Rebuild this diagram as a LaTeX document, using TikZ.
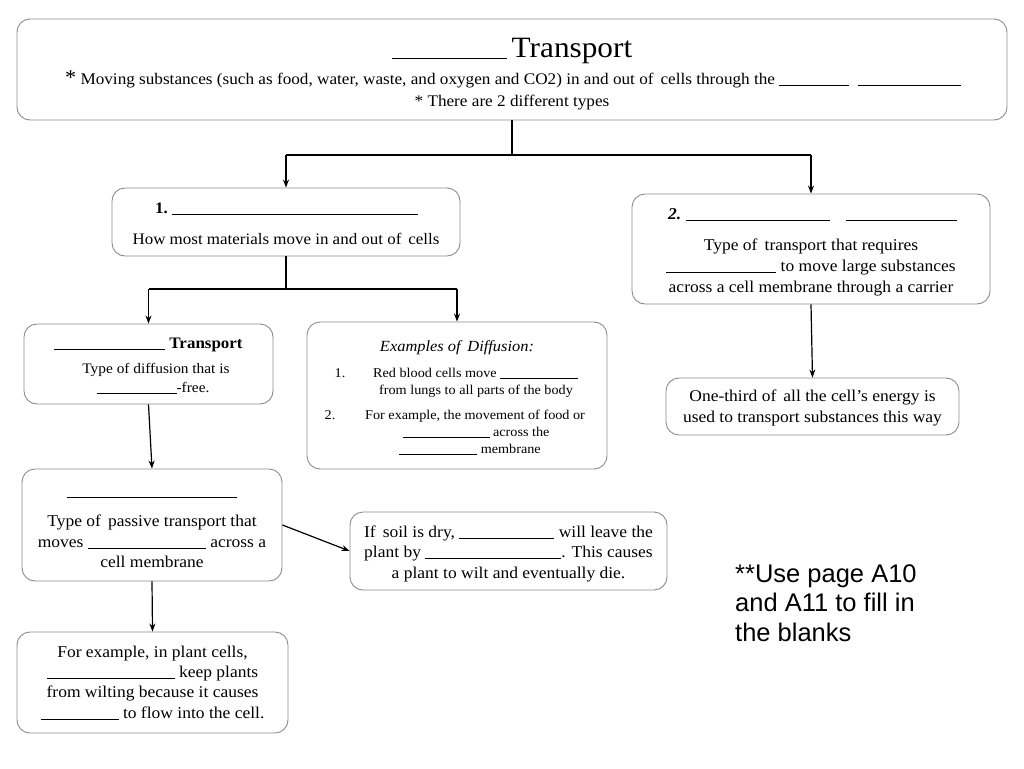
\documentclass[tikz,border=0pt]{standalone}
\usepackage{fontspec}
\setmainfont{Liberation Serif}[FakeStretch=1.06]
\newfontfamily\notefont{Liberation Sans}
\usetikzlibrary{arrows.meta}
\definecolor{boxgray}{RGB}{140,140,140}
\newcommand{\blank}[1]{\rule[-1.5pt]{#1pt}{0.7pt}}
\begin{document}
\begin{tikzpicture}[x=1pt,y=-1pt,
  box/.style={draw=boxgray, line width=0.9pt, rounded corners=13pt, inner sep=0pt},
  txt/.style={anchor=base, inner sep=0pt, font=\fontsize{16.5}{19}\selectfont},
  mtxt/.style={anchor=base, inner sep=0pt, font=\fontsize{16}{19}\selectfont},
  stxt/.style={anchor=base, inner sep=0pt, font=\fontsize{13.4}{15}\selectfont},
  conn/.style={line width=1.2pt, -{Stealth[length=8pt,width=6pt]}},
  seg/.style={line width=1.2pt},
  ]
\useasboundingbox (0,0) rectangle (1024,768);
\fill[white] (0,0) rectangle (1024,768);

% boxes
\node[box, minimum width=990pt, minimum height=101pt] (top) at (512,69.5) {};
\node[box, minimum width=348pt, minimum height=68pt] (b1) at (286,222) {};
\node[box, minimum width=358pt, minimum height=110pt] (b2) at (811,249) {};
\node[box, minimum width=249pt, minimum height=80pt] (tb) at (148.5,364) {};
\node[box, minimum width=300pt, minimum height=147pt] (ex) at (457,395.5) {};
\node[box, minimum width=260pt, minimum height=112pt] (pb) at (152,525) {};
\node[box, minimum width=317pt, minimum height=78pt] (sb) at (508.5,551) {};
\node[box, minimum width=271pt, minimum height=101pt] (plb) at (152.5,682.5) {};
\node[box, minimum width=293pt, minimum height=57pt] (ob) at (812.5,406.5) {};

% connectors
\coordinate (j1) at (512,155);
\coordinate (jl) at (286,155);
\coordinate (jr) at (811,155);
\draw[seg] (top.south) -- (j1);
\draw[seg] (jl) -- (jr);
\draw[conn] (jl) -- (b1.north);
\draw[conn] (jr) -- (b2.north);
\coordinate (k1) at (286,289);
\coordinate (kl) at (148.5,289);
\coordinate (kr) at (457,289);
\draw[seg] (b1.south) -- (k1);
\draw[seg] (kl) -- (kr);
\draw[conn] (kl) -- (tb.north);
\draw[conn] (kr) -- (ex.north);
\draw[conn] (tb.south) -- (pb.north);
\draw[conn] (b2.south) -- (ob.north);
\draw[conn] (pb.east) -- (sb.west);
\draw[conn] (pb.south) -- (plb.north);

% top texts
\node[anchor=base, inner sep=0pt, font=\fontsize{29.5}{31}\selectfont] (t1) at (512,57) {\blank{115}\,Transport};
\node[anchor=base, inner sep=0pt, font=\fontsize{16.2}{19}\selectfont] (t2) at (513,84) {{\fontsize{21}{20}\selectfont *} Moving substances (such as food, water, waste, and oxygen and CO2) in and out of\, cells through the \blank{70}\ \ \blank{103}};
\node[anchor=base, inner sep=0pt, font=\fontsize{16.2}{19}\selectfont] (t3) at (512,106) {* There are 2 different types};

% box 1
\node[mtxt, anchor=base west] (b1a) at (155,213) {\textbf{1.}\ \blank{246}};
\node[mtxt] (b1b) at (286,244) {How most materials move in and out of\, cells};

% box 2
\node[txt, anchor=base west] (b2a) at (668,219) {\textbf{\textit{2.}}\ \blank{144}\quad\blank{111}};
\node[txt] (b2b) at (811,250) {Type of\, transport that requires};
\node[txt] (b2c) at (811,271) {\blank{110} to move large substances};
\node[txt] (b2d) at (811,292) {across a cell membrane through a carrier};

% transport box
\node[mtxt, anchor=base west] (tba) at (54,348) {\blank{111}\ \textbf{Transport}};
\node[anchor=base, inner sep=0pt, font=\fontsize{14.5}{16}\selectfont] (tbb) at (156,373) {Type of diffusion that is};
\node[anchor=base, inner sep=0pt, font=\fontsize{14.5}{16}\selectfont] (tbc) at (153,392) {\blank{80}-free.};

% examples box
\node[anchor=base, inner sep=0pt, font=\fontsize{15.5}{17}\selectfont\itshape] (exa) at (457,351) {Examples of\, Diffusion:};
\node[stxt] (ex1) at (340,377) {1.};
\node[stxt, anchor=base west] (ex1a) at (373,377) {Red blood cells move \blank{78}};
\node[stxt] (ex1b) at (476,394) {from lungs to all parts of the body};
\node[stxt] (ex2) at (330,419) {2.};
\node[stxt, anchor=base west] (ex2a) at (365,419) {For example, the movement of food or};
\node[stxt] (ex2b) at (476,436) {\blank{87} across the};
\node[stxt] (ex2c) at (470,453) {\blank{78} membrane};

% passive box
\node[txt] (pba) at (152,496) {\blank{170}};
\node[txt] (pbb) at (152,526) {Type of\, passive transport that};
\node[txt] (pbc) at (152,547) {moves \blank{118} across a};
\node[txt] (pbd) at (152,567) {cell membrane};

% soil box
\node[txt] (sba) at (508.5,537) {If\, soil is dry, \blank{95} will leave the};
\node[txt] (sbb) at (508.5,557) {plant by \blank{136}. This causes};
\node[txt] (sbc) at (508.5,578) {a plant to wilt and eventually die.};

% plant box
\node[txt] (pla) at (152.5,657) {For example, in plant cells,};
\node[txt] (plb1) at (152.5,677) {\blank{128} keep plants};
\node[txt] (plc) at (152.5,697) {from wilting because it causes};
\node[txt] (pld) at (152.5,718) {\blank{78} to flow into the cell.};

% one-third box
\node[txt] (oba) at (812.5,401) {One-third of\, all the cell’s energy is};
\node[txt] (obb) at (812.5,422) {used to transport substances this way};

% note
\node[anchor=north west, inner sep=0pt, align=left, font=\notefont\fontsize{25.5}{29.5}\selectfont] (note) at (735,564) {**Use page A10\\and A11 to fill in\\the blanks};
\end{tikzpicture}
\end{document}
